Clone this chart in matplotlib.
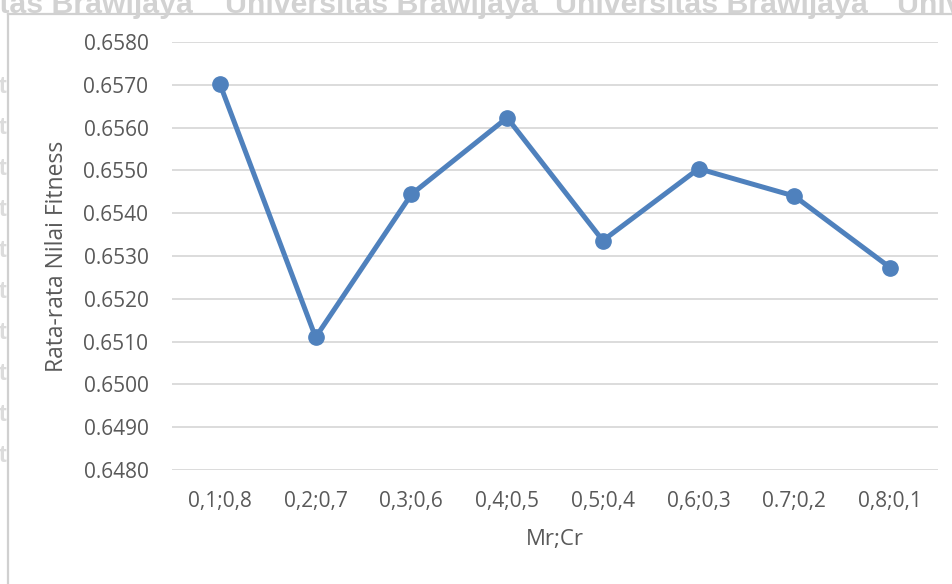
import matplotlib
matplotlib.use("Agg")
import matplotlib.pyplot as plt
from matplotlib.lines import Line2D

# Average fitness for each mutation-rate / crossover-rate pair
combos = ["0,1;0,8", "0,2;0,7", "0,3;0,6", "0,4;0,5",
          "0,5;0,4", "0,6;0,3", "0.7;0,2", "0,8;0,1"]
fitness = [0.65702, 0.65110, 0.65444, 0.65623,
           0.65336, 0.65504, 0.65440, 0.65273]
y_ticks = [0.6480, 0.6490, 0.6500, 0.6510, 0.6520, 0.6530,
           0.6540, 0.6550, 0.6560, 0.6570, 0.6580]

W, H, DPI = 952, 584, 100
fig = plt.figure(figsize=(W / DPI, H / DPI), dpi=DPI)
fig.patch.set_facecolor("white")

FONT = ["Open Sans", "DejaVu Sans"]
TXT = "#595959"
GRID = "#d9d9d9"
LINE = "#4f81bd"

def fx(px):
    return px / W

def fy(py):
    return 1 - py / H

# page background: header watermark and page frame
wm_color = "#d2d2d2"
for x0 in (-120, 225, 555, 897):
    fig.text(fx(x0), fy(13), "Universitas Brawijaya", color=wm_color,
             fontsize=21.8, fontweight="bold", family="Liberation Sans",
             ha="left", va="baseline")
fig.add_artist(Line2D([fx(8), 1.0], [fy(13.5), fy(13.5)],
                      color="#d0d0d0", lw=1.6, transform=fig.transFigure))
fig.add_artist(Line2D([fx(8), fx(8)], [fy(13.5), 0.0],
                      color="#d0d0d0", lw=1.6, transform=fig.transFigure))
for py in range(93, 470, 41):
    fig.text(fx(3), fy(py), "t", color="#dcdcdc", fontsize=17,
             family="Liberation Sans", fontweight="bold",
             ha="center", va="baseline")

# chart area
ax = fig.add_axes([fx(172), fy(470), fx(938) - fx(172), fy(42) - fy(470)])
ax.set_facecolor("none")
x = list(range(len(combos)))
ax.plot(x, fitness, color=LINE, lw=3.6, marker="o", markersize=11,
        markerfacecolor=LINE, markeredgecolor=LINE, zorder=3,
        solid_capstyle="round")

ax.set_xlim(-0.5, len(combos) - 0.5)
ax.set_ylim(y_ticks[0], y_ticks[-1])
ax.set_yticks(y_ticks)
ax.set_yticklabels([f"{v:.4f}" for v in y_ticks])
ax.set_xticks(x)
ax.set_xticklabels(combos)

ax.yaxis.grid(True, color=GRID, lw=1.3)
ax.set_axisbelow(True)
for s in ax.spines.values():
    s.set_visible(False)
ax.tick_params(axis="both", length=0, colors=TXT, labelsize=15)
ax.tick_params(axis="y", pad=17)
ax.tick_params(axis="x", pad=15)
for lab in ax.get_xticklabels() + ax.get_yticklabels():
    lab.set_family(FONT)

ax.set_xlabel("Mr;Cr", color=TXT, fontsize=16, family=FONT, labelpad=12)
ax.set_ylabel("Rata-rata Nilai Fitness", color=TXT, fontsize=16.5,
              family=FONT, labelpad=10)

fig.savefig("out.png", dpi=DPI, facecolor="white")
